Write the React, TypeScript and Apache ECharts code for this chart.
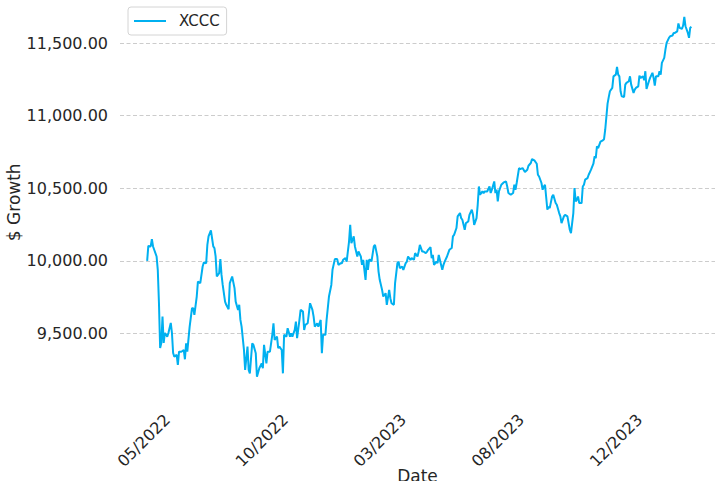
import { useEffect, useRef } from "react";
import * as echarts from "echarts";

// trading-day index from the first observation
const tradingDays = [
  0, 1, 3, 4, 5, 8, 9, 10, 11, 12, 13, 14, 15, 17, 18, 20, 21, 22, 23, 25, 26, 27, 29, 31, 32, 33, 34, 36, 38, 39,
  40, 42, 43, 45, 47, 48, 50, 51, 52, 54, 56, 57, 58, 59, 61, 62, 63, 64, 66, 67, 69, 70, 72, 74, 75, 77, 78, 79,
  80, 82, 83, 85, 86, 87, 89, 90, 92, 93, 95, 97, 98, 99, 101, 102, 104, 106, 107, 108, 110, 111, 112, 114, 115,
  116, 118, 119, 121, 122, 123, 125, 126, 127, 129, 130, 132, 133, 134, 136, 138, 140, 141, 142, 144, 145, 147,
  148, 149, 151, 152, 154, 156, 157, 159, 161, 162, 164, 165, 166, 168, 169, 171, 172, 173, 175, 176, 178, 179,
  181, 182, 183, 185, 186, 187, 188, 189, 190, 192, 193, 195, 196, 197, 199, 200, 202, 203, 205, 206, 207, 209,
  210, 212, 213, 214, 216, 217, 219, 220, 221, 223, 224, 226, 227, 229, 230, 231, 233, 234, 236, 237, 238, 240,
  241, 242, 243, 245, 246, 247, 249, 250, 251, 252, 254, 256, 258, 259, 260, 262, 263, 265, 266, 267, 269, 270,
  272, 273, 275, 276, 277, 279, 280, 281, 282, 284, 285, 286, 288, 290, 291, 292, 294, 295, 296, 297, 298, 300,
  302, 304, 305, 306, 308, 310, 311, 312, 313, 315, 316, 318, 320, 322, 323, 325, 326, 328, 330, 331, 332, 334,
  335, 336, 337, 339, 340, 341, 343, 344, 346, 347, 349, 350, 351, 353, 354, 356, 357, 358, 359, 361, 362, 363,
  364, 365, 366, 368, 369, 370, 371, 373, 374, 376, 378, 379, 380, 381, 382, 384, 386, 387, 388, 390, 391, 392,
  394, 395, 397, 398, 399, 400, 401, 402, 404, 405, 406, 408, 409, 410, 412, 413, 414, 416, 417, 418, 420, 421,
  422, 423, 425, 426, 428, 429, 430, 431, 433, 434, 435, 436, 438, 439, 440, 442, 443, 445, 446, 447, 449, 450,
  451, 453, 454, 455, 456, 458, 459, 460, 461,
];

// $ growth of 10,000 for XCCC
const growthXCCC = [
  10000, 10103, 10099, 10150, 10099, 10030, 9938, 9710, 9400, 9434, 9616, 9434, 9503, 9478, 9503, 9572, 9503, 9365,
  9340, 9352, 9283, 9374, 9374, 9386, 9322, 9432, 9374, 9547, 9674, 9674,
  9628, 9754, 9857, 9846, 9961, 9988, 9984, 10110, 10168, 10209, 10099, 10088, 10030, 9892, 9915, 10012, 9903, 9834,
  9719, 9697, 9667, 9846, 9892, 9812, 9719, 9662, 9697, 9593,
  9547, 9386, 9248, 9409, 9248, 9225, 9432, 9421, 9363, 9202, 9260, 9294, 9260, 9421, 9294, 9374, 9374, 9490, 9570,
  9455, 9478, 9398, 9409, 9386, 9225,
  9490, 9478, 9536, 9478, 9501, 9478, 9524, 9581, 9467, 9593, 9662, 9650, 9524, 9559, 9570, 9708, 9662, 9616, 9547,
  9570, 9547, 9593,
  9363, 9490, 9490, 9593, 9754, 9834, 9938, 10012, 10012, 9972, 9984, 9984, 10007, 10019, 9995, 10133, 10248, 10122,
  10168, 10099, 10030, 10064,
  10030, 9972, 10007, 9869, 10007, 9938, 10007, 10007, 9995, 10099, 10110, 10030, 9926, 9869, 9800, 9754, 9777, 9697,
  9800, 9743, 9708, 9697,
  9846, 9984, 9995, 9950, 9961, 9938, 9984, 9995, 10030, 10007, 10019, 10007, 10053, 10030, 10064, 10110, 10064,
  10064, 10053, 10062, 10076, 10094,
  10019, 10041, 9972, 9995, 9984, 10041, 9972, 9938, 9972, 9995, 10030, 10076, 10088, 10168, 10179, 10226, 10306,
  10329, 10294, 10283, 10214, 10260,
  10271, 10317, 10352, 10317, 10248, 10294, 10386, 10512, 10455, 10478, 10467, 10478, 10478, 10512, 10467, 10490,
  10547, 10467, 10490, 10409, 10478, 10524,
  10540, 10547, 10512, 10467, 10455, 10467, 10524, 10490, 10536, 10639, 10632, 10639, 10612, 10628, 10655, 10674,
  10701, 10692, 10669, 10593, 10581, 10536,
  10490, 10512, 10524, 10352, 10374, 10363, 10443, 10455, 10398, 10386, 10329, 10306, 10260, 10306, 10317, 10306,
  10260, 10214, 10191, 10329, 10501, 10409,
  10421, 10443, 10398, 10398, 10512, 10524, 10559, 10570, 10593, 10628, 10669, 10719, 10708, 10788, 10777, 10821,
  10830, 10838, 10903, 11083, 11128, 11168,
  11191, 11271, 11283, 11336, 11283, 11271, 11168, 11133, 11129, 11214, 11226, 11237, 11271, 11214, 11157, 11179,
  11191, 11202, 11276, 11260, 11271, 11244,
  11306, 11184, 11237, 11260, 11295, 11260, 11207, 11271, 11271, 11306, 11283, 11364, 11398, 11455, 11501, 11536,
  11547, 11552, 11570, 11570, 11581, 11635,
  11605, 11598, 11621, 11681, 11616, 11570, 11536, 11605, 11612,
];

const dateTickDays = [17, 117, 217, 317, 417];
const dateTickLabels = ["05/2022", "10/2022", "03/2023", "08/2023", "12/2023"];

const FONT = "DejaVu Sans";
const TEXT = "#262626";
const LINE = "#00b0f0";

export default function App() {
  const ref = useRef<HTMLDivElement>(null);

  useEffect(() => {
    document.body.style.margin = "0";
    if (!ref.current) return;
    const chart = echarts.init(ref.current, undefined, { renderer: "svg" });
    const fmtMoney = (v: number) =>
      v < 9500 || v > 11500
        ? ""
        : v.toLocaleString("en-US", { minimumFractionDigits: 2, maximumFractionDigits: 2 });

    chart.setOption({
      animation: false,
      backgroundColor: "#ffffff",
      textStyle: { fontFamily: FONT },
      grid: {
        left: 120,
        right: 0,
        top: -29.5,
        bottom: 75,
        containLabel: false,
        outerBoundsMode: "none",
      },
      legend: {
        left: 128,
        top: 7,
        padding: [6, 7, 6, 6],
        itemWidth: 32,
        itemHeight: 14,
        borderColor: "#d4d4d4",
        borderWidth: 1,
        borderRadius: 3,
        backgroundColor: "#ffffff",
        textStyle: { fontFamily: FONT, fontSize: 15, color: TEXT, padding: [0, 0, 0, 8], lineHeight: 16 },
        data: [{ name: "XCCC", icon: "path://M0,0 L32,0 L32,2 L0,2 Z" }],
      },
      xAxis: {
        type: "value",
        min: -23,
        max: 481,
        axisLine: { show: false },
        axisTick: { show: false },
        splitLine: { show: false },
        axisLabel: {
          customValues: dateTickDays,
          rotate: 45,
          margin: 11,
          fontFamily: FONT,
          fontSize: 16,
          color: TEXT,
          formatter: (v: number) => {
            const i = dateTickDays.indexOf(Math.round(v));
            return i >= 0 ? dateTickLabels[i] : "";
          },
        },
        name: "Date",
        nameLocation: "middle",
        nameMoveOverlap: false,
        nameGap: 61,
        nameTextStyle: { fontFamily: FONT, fontSize: 17, color: TEXT },
      },
      yAxis: {
        type: "value",
        min: 9000,
        max: 12000,
        interval: 500,
        axisLine: { show: false },
        axisTick: { show: false },
        axisLabel: { margin: 12, fontFamily: FONT, fontSize: 16, color: TEXT, formatter: fmtMoney },
        splitLine: {
          show: true,
          showMinLine: false,
          showMaxLine: false,
          lineStyle: { type: [4, 2.5], color: "#cccccc", width: 1 },
        },
        name: "$ Growth",
        nameLocation: "middle",
        nameMoveOverlap: false,
        nameGap: 98,
        nameTextStyle: { fontFamily: FONT, fontSize: 17, color: TEXT, padding: [0, 28, 0, 0] },
      },
      series: [
        {
          name: "XCCC",
          type: "line",
          symbol: "none",
          data: tradingDays.map((d, i) => [d, growthXCCC[i]]),
          lineStyle: { color: LINE, width: 2 },
          itemStyle: { color: LINE },
        },
      ],
    });
    return () => chart.dispose();
  }, []);

  return <div ref={ref} style={{ width: 715, height: 481 }} />;
}
